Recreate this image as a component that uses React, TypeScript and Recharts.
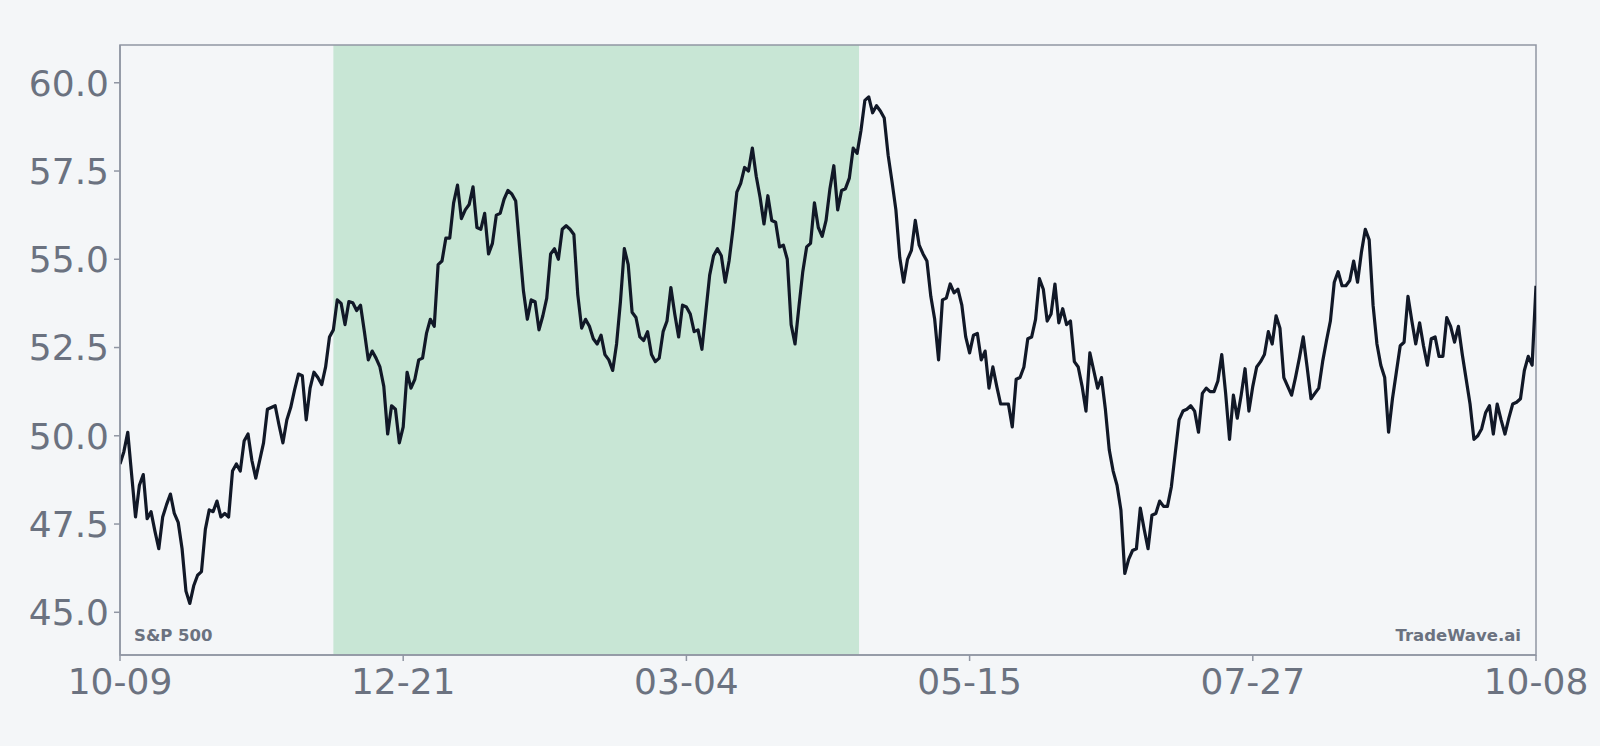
import React from "react";
import {
  LineChart,
  Line,
  XAxis,
  YAxis,
  ReferenceArea,
} from "recharts";

// daily closes, one value per day, 10-09 .. 10-08
const values = [
  49.2, 49.55, 50.1, 48.9, 47.7, 48.6, 48.9, 47.65, 47.85, 47.3,
  46.8, 47.7, 48.05, 48.35, 47.8, 47.55, 46.8, 45.6, 45.25, 45.75,
  46.05, 46.15, 47.35, 47.9, 47.85, 48.15, 47.7, 47.8, 47.7, 49.0,
  49.2, 49.0, 49.85, 50.05, 49.3, 48.8, 49.3, 49.8, 50.75, 50.8,
  50.85, 50.3, 49.8, 50.45, 50.8, 51.3, 51.75, 51.7, 50.45, 51.35,
  51.8, 51.65, 51.45, 51.95, 52.8, 53.0, 53.85, 53.75, 53.15, 53.8,
  53.77, 53.55, 53.7, 52.95, 52.15, 52.4, 52.2, 51.95, 51.4, 50.05,
  50.85, 50.75, 49.8, 50.25, 51.8, 51.35, 51.6, 52.15, 52.2, 52.9,
  53.3, 53.1, 54.85, 54.95, 55.6, 55.6, 56.6, 57.1, 56.15, 56.4,
  56.55, 57.05, 55.9, 55.85, 56.3, 55.15, 55.45, 56.25, 56.3, 56.7,
  56.95, 56.85, 56.65, 55.35, 54.1, 53.3, 53.85, 53.8, 53.0, 53.4,
  53.9, 55.15, 55.3, 55.0, 55.85, 55.95, 55.85, 55.7, 54.0, 53.05,
  53.3, 53.1, 52.75, 52.6, 52.85, 52.3, 52.15, 51.85, 52.6, 53.8,
  55.3, 54.85, 53.5, 53.35, 52.8, 52.7, 52.95, 52.3, 52.1, 52.2,
  52.95, 53.25, 54.2, 53.45, 52.8, 53.7, 53.65, 53.45, 52.95, 53.0,
  52.45, 53.5, 54.55, 55.1, 55.3, 55.1, 54.35, 54.95, 55.85, 56.9,
  57.15, 57.6, 57.5, 58.15, 57.35, 56.75, 56.0, 56.8, 56.1, 56.05,
  55.35, 55.4, 55.0, 53.15, 52.6, 53.65, 54.65, 55.35, 55.45, 56.6,
  55.9, 55.65, 56.1, 57.0, 57.65, 56.4, 56.95, 57.0, 57.3, 58.15,
  58.0, 58.65, 59.5, 59.6, 59.15, 59.35, 59.2, 59.0, 57.95, 57.2,
  56.4, 55.05, 54.35, 55.0, 55.25, 56.1, 55.4, 55.15, 54.95, 53.95,
  53.3, 52.15, 53.85, 53.9, 54.3, 54.05, 54.15, 53.7, 52.8, 52.35,
  52.85, 52.9, 52.15, 52.4, 51.35, 51.95, 51.4, 50.9, 50.9, 50.9,
  50.25, 51.6, 51.65, 51.95, 52.75, 52.8, 53.3, 54.45, 54.15, 53.25,
  53.45, 54.3, 53.2, 53.6, 53.15, 53.25, 52.1, 51.95, 51.4, 50.7,
  52.35, 51.85, 51.35, 51.65, 50.75, 49.6, 49.0, 48.6, 47.9, 46.1,
  46.5, 46.75, 46.8, 47.95, 47.35, 46.8, 47.75, 47.8, 48.15, 48.0,
  48.0, 48.55, 49.5, 50.45, 50.7, 50.75, 50.85, 50.7, 50.1, 51.2,
  51.35, 51.25, 51.25, 51.55, 52.3, 51.2, 49.9, 51.15, 50.5, 51.15,
  51.9, 50.7, 51.4, 51.95, 52.1, 52.3, 52.95, 52.6, 53.4, 53.05,
  51.65, 51.4, 51.15, 51.65, 52.2, 52.8, 51.95, 51.05, 51.2, 51.35,
  52.1, 52.7, 53.25, 54.35, 54.65, 54.25, 54.25, 54.4, 54.95, 54.35,
  55.2, 55.85, 55.55, 53.7, 52.6, 52.0, 51.65, 50.1, 51.05, 51.8,
  52.55, 52.65, 53.95, 53.25, 52.6, 53.2, 52.55, 52.0, 52.75, 52.8,
  52.25, 52.25, 53.35, 53.1, 52.65, 53.1, 52.3, 51.6, 50.9, 49.9,
  50.0, 50.2, 50.65, 50.85, 50.05, 50.9, 50.45, 50.05, 50.5, 50.9,
  50.95, 51.05, 51.85, 52.25, 52.0, 54.25,
];

// x ticks: day index and its label
const tickDays = [0, 73, 146, 219, 292, 365];
const tickLabels = ["10-09", "12-21", "03-04", "05-15", "07-27", "10-08"];

const yTicks = [45, 47.5, 50, 52.5, 55, 57.5, 60];

// highlighted period (day index)
const shadeFrom = 55;
const shadeTo = 190.5;

const seriesName = "S&P 500";
const watermark = "TradeWave.ai";

const data = values.map((v, i) => ({ day: i, value: v }));

const W = 1600;
const H = 746;
const axisColor = "#9096a3";
const labelColor = "#6b7280";
const font = "DejaVu Sans";

export default function App() {
  const yMin = 43.79;
  const yMax = 61.07;
  return (
    <div
      style={{
        position: "fixed",
        left: 0,
        top: 0,
        width: W,
        height: H,
        background: "#f4f6f8",
        fontFamily: font,
      }}
    >
      <LineChart
        width={W}
        height={H}
        data={data}
        margin={{ top: 45, right: 64, bottom: 61, left: 0 }}
      >
        <XAxis
          dataKey="day"
          type="number"
          height={30}
          domain={[0, values.length - 1]}
          ticks={tickDays}
          tickFormatter={(d) => tickLabels[tickDays.indexOf(d)] ?? ""}
          axisLine={{ stroke: axisColor, strokeWidth: 1.5 }}
          tickLine={{ stroke: axisColor, strokeWidth: 1.5 }}
          tickSize={6}
          tickMargin={7}
          tick={{ fill: labelColor, fontSize: 36, fontFamily: font }}
          allowDataOverflow
        />
        <YAxis
          type="number"
          width={120}
          domain={[yMin, yMax]}
          ticks={yTicks}
          tickFormatter={(v) => v.toFixed(1)}
          axisLine={{ stroke: axisColor, strokeWidth: 1.5 }}
          tickLine={{ stroke: axisColor, strokeWidth: 1.5 }}
          tickSize={6}
          tickMargin={5}
          tick={{ fill: labelColor, fontSize: 36, fontFamily: font }}
          allowDataOverflow
        />
        <ReferenceArea
          x1={shadeFrom}
          x2={shadeTo}
          y1={yMin}
          y2={yMax}
          fill="#c8e6d5"
          fillOpacity={1}
          stroke="none"
        />
        <ReferenceArea
          x1={0}
          x2={values.length - 1}
          y1={yMin}
          y2={yMax}
          fill="none"
          stroke={axisColor}
          strokeWidth={1.5}
        />
        <Line
          type="linear"
          dataKey="value"
          stroke="#111827"
          strokeWidth={3.2}
          strokeLinejoin="round"
          dot={false}
          isAnimationActive={false}
        />
      </LineChart>
      <svg
        width={W}
        height={H}
        style={{ position: "absolute", left: 0, top: 0, pointerEvents: "none" }}
      >
        <text
          x={134}
          y={641}
          fill={labelColor}
          fontSize={16.5}
          fontWeight="bold"
          fontFamily={font}
        >
          {seriesName}
        </text>
        <text
          x={1521}
          y={641}
          fill={labelColor}
          fontSize={16.5}
          fontWeight="bold"
          fontFamily={font}
          textAnchor="end"
        >
          {watermark}
        </text>
      </svg>
    </div>
  );
}
